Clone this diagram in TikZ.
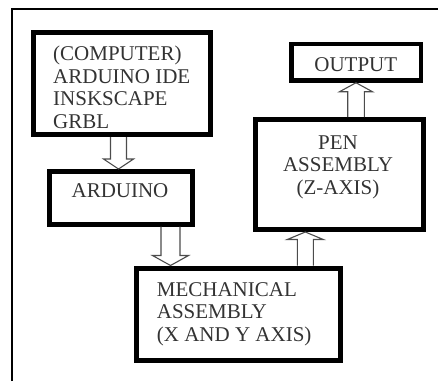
\documentclass[tikz,border=0pt]{standalone}
\usepackage{fontspec}
\setmainfont{Liberation Serif}
\usetikzlibrary{calc}
\newcommand\blockarrow[6]{%
  \draw[barrow] let \p1=(#1), \p2=(#2) in
    ({#3-#4},\y1) -- ({#3-#4},{\y2+#6}) -- ({#3-#5},{\y2+#6}) -- (#3,\y2)
    -- ({#3+#5},{\y2+#6}) -- ({#3+#4},{\y2+#6}) -- ({#3+#4},\y1);}
\begin{document}
\begin{tikzpicture}[x=1pt,y=1pt,
  box/.style={draw=black,line width=5pt,inner sep=0pt,minimum width=#1},
  txt/.style={inner sep=0pt,text=black!80,font=\fontsize{21}{22.5}\selectfont},
  barrow/.style={draw=black!70,line width=1.1pt,line join=miter}]
\useasboundingbox (0,0) rectangle (438,-381);
\draw[line width=2.2pt] (12,-381) -- (12,-9) -- (438,-9);
% boxes
\node[box=177pt,minimum height=102pt] (comp) at (121.5,-83.5) {};
\node[box=143pt,minimum height=52.5pt] (ard) at (120.5,-197.75) {};
\node[box=129.5pt,minimum height=36.5pt,line width=4.5pt] (out) at (356.25,-62.25) {};
\node[box=168pt,minimum height=110pt] (pen) at (339,-174.5) {};
\node[box=204pt,minimum height=92pt] (mech) at (238,-314) {};
% texts
\node[txt,align=left,anchor=west] (tcomp) at (53,-87.4) {(COMPUTER)\\ARDUINO IDE\\INSKSCAPE\\GRBL};
\node[txt,anchor=base] (tard) at (120,-197.6) {ARDUINO};
\node[txt,anchor=base] (tout) at (355.8,-71.9) {OUTPUT};
\node[txt,align=center] (tpen) at (338,-167.3) {PEN\\ASSEMBLY\\(Z-AXIS)};
\node[txt,align=left,anchor=west] (tmech) at (156.7,-313.8) {MECHANICAL\\ASSEMBLY\\(X AND Y AXIS)};
% block arrows
\blockarrow{comp.south}{ard.north}{118.5}{8}{15}{10}
\blockarrow{ard.south}{mech.north}{170.5}{9.5}{18}{10}
\blockarrow{mech.north}{pen.south}{305.3}{8}{18}{-7.5}
\blockarrow{pen.north}{out.south}{356}{8.3}{16.5}{-9}
\end{tikzpicture}
\end{document}
